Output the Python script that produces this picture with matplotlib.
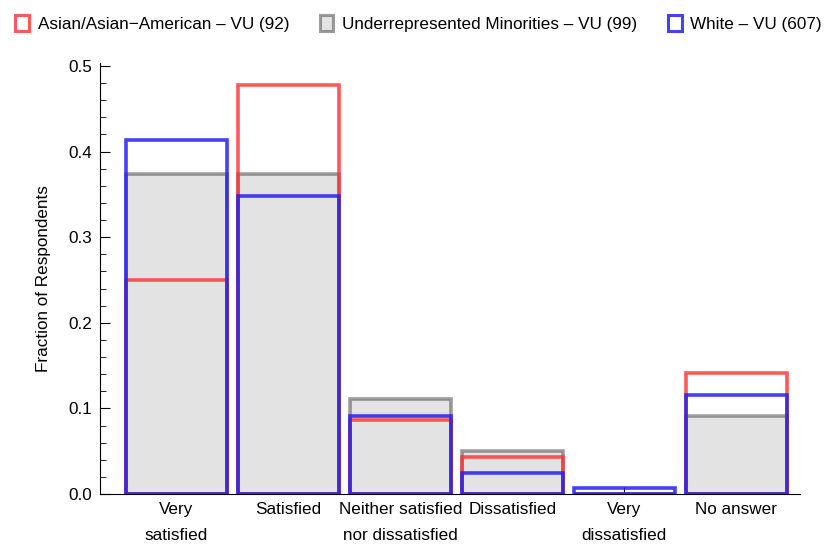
import numpy as np
import matplotlib.pyplot as plt
from matplotlib.patches import Patch

plt.rcParams['font.family'] = ['Liberation Sans', 'DejaVu Sans']

categories = ["Very\nsatisfied", "Satisfied", "Neither satisfied\nnor dissatisfied",
              "Dissatisfied", "Very\ndissatisfied", "No answer"]
asian = [0.25, 0.478, 0.087, 0.0435, 0.0, 0.1413]
urm = [0.3737, 0.3737, 0.111, 0.0505, 0.0, 0.0909]
white = [0.4135, 0.3476, 0.0906, 0.0247, 0.0066, 0.1153]
labels = ["Asian/Asian\u2212American \u2013 VU (92)",
          "Underrepresented Minorities \u2013 VU (99)",
          "White \u2013 VU (607)"]

red = (1.0, 0.19, 0.19, 0.8)
gray = (0.3, 0.3, 0.3, 0.55)
blue = (0.15, 0.12, 0.95, 0.85)
fill = '#e3e3e3'
fs = 12.3

fig = plt.figure(figsize=(8.37, 5.51), dpi=100)
ax = fig.add_axes([0.1195, 0.1034, 0.8365, 0.7823])

x = np.arange(1, len(categories) + 1)
w = 0.9
lw = 2.6
ax.bar(x, urm, width=w, facecolor=fill, edgecolor=gray, linewidth=lw, zorder=2)
ax.bar(x, asian, width=w, facecolor='none', edgecolor=red, linewidth=lw, zorder=3)
ax.bar(x, white, width=w, facecolor='none', edgecolor=blue, linewidth=lw, zorder=4)

ax.set_xlim(0.32, 6.57)
ax.set_ylim(0, 0.5035)
ax.set_xticks(x)
ax.set_xticklabels(categories, fontsize=fs, linespacing=1.85)
ax.set_yticks(np.arange(0, 0.51, 0.1))
ax.set_yticklabels(['0.0', '0.1', '0.2', '0.3', '0.4', '0.5'], fontsize=fs)
ax.set_yticks(np.arange(0, 0.5, 0.02), minor=True)
ax.tick_params(axis='y', which='major', direction='in', length=7, width=0.8, pad=6)
ax.tick_params(axis='y', which='minor', direction='in', length=4, width=0.6)
ax.tick_params(axis='x', direction='in', length=5, width=0.8, pad=6)
for s in ['top', 'right']:
    ax.spines[s].set_visible(False)
ax.spines['left'].set_linewidth(0.8)
ax.spines['bottom'].set_linewidth(0.8)
ax.set_ylabel("Fraction of Respondents", fontsize=fs, labelpad=12)

handles = [Patch(facecolor='white', edgecolor=red, linewidth=2.2),
           Patch(facecolor=fill, edgecolor=gray, linewidth=2.2),
           Patch(facecolor='white', edgecolor=blue, linewidth=2.2)]
fig.legend(handles, labels, loc='upper center', bbox_to_anchor=(0.5, 1.0), ncol=3,
           frameon=False, fontsize=fs, handlelength=0.8, handleheight=1.1,
           handletextpad=0.5, columnspacing=1.8, borderaxespad=0.45)

fig.savefig('out.png', dpi=100)
